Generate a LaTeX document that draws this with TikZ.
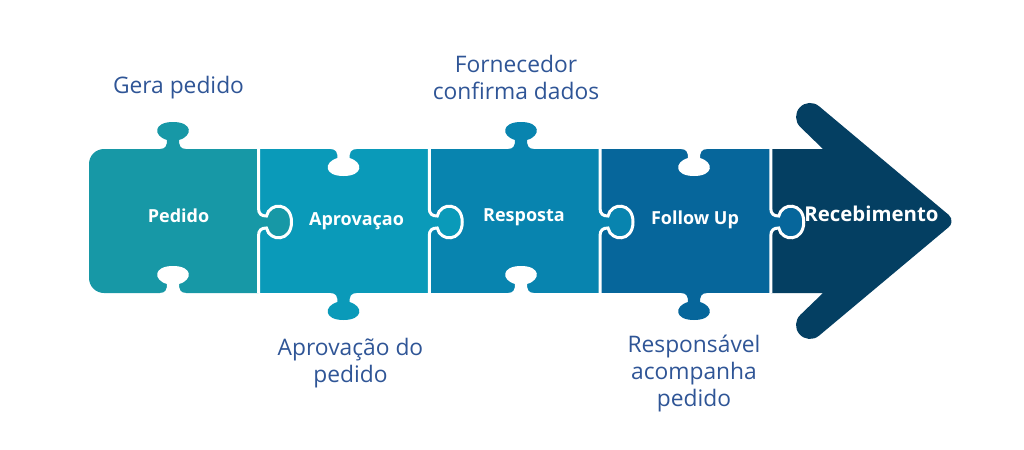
\documentclass[tikz,border=0pt]{standalone}
\usepackage{fontspec}
\setmainfont{Open Sans}
\usepackage{tikz}
\usetikzlibrary{positioning}
\definecolor{pedidoc}{HTML}{1798A6}
\definecolor{aprovc}{HTML}{0A9AB9}
\definecolor{respc}{HTML}{0884AF}
\definecolor{followc}{HTML}{06669B}
\definecolor{recebc}{HTML}{043F62}
\definecolor{descc}{HTML}{2F5596}

\begin{document}
\begin{tikzpicture}[x=0.025cm, y=-0.025cm]
\tikzstyle{desc}=[text=descc, align=center, inner sep=0pt, font=\fontsize{16.2}{19.5}\selectfont]
\tikzstyle{piecelabel}=[text=white, inner sep=0pt, anchor=base, font=\bfseries\fontsize{12.8}{15}\selectfont]
\tikzstyle{cut}=[draw=white, line width=0.075cm]
\tikzset{
  knobcap/.pic={
    \fill[pic actions] (-13,2) -- (-13,0) .. controls (-7,0) and (-6,-4) .. (-6,-9)
      .. controls (-20,-13) and (-20,-27) .. (0,-27) .. controls (20,-27) and (20,-13) .. (6,-9)
      .. controls (6,-4) and (7,0) .. (13,0) -- (13,2) -- cycle;
  },
  knobside/.pic={
    \fill[pic actions] (-2,-14) -- (0,-14) .. controls (0,-8) and (3,-6) .. (8,-6)
      .. controls (11,-20) and (33,-20) .. (33,0) .. controls (33,20) and (11,20) .. (8,6)
      .. controls (3,6) and (0,8) .. (0,14) -- (-2,14) -- cycle;
    \draw[cut] (0,-73) -- (0,-14) .. controls (0,-8) and (3,-6) .. (8,-6)
      .. controls (11,-20) and (33,-20) .. (33,0) .. controls (33,20) and (11,20) .. (8,6)
      .. controls (3,6) and (0,8) .. (0,14) -- (0,71);
  }
}
\useasboundingbox (0,0) rectangle (1024,449);

\fill[pedidoc] (258.5,149) -- (104,149) arc[start angle=270, end angle=180, radius=15]
  -- (89,278) arc[start angle=180, end angle=90, radius=15] -- (258.5,293) -- cycle;
\fill[aprovc] (258.5,149) rectangle (429.25,293);
\fill[respc] (429.25,149) rectangle (600,293);
\fill[followc] (600,149) rectangle (770.75,293);
\fill[recebc] (770.75,149) -- (823,149) -- (800.4,127.1) arc[start angle=133.5, end angle=310, radius=14]
  -- (948.7,214.87) arc[start angle=-50, end angle=50, radius=8]
  -- (819,335.7) arc[start angle=50, end angle=226.5, radius=14]
  -- (823,293) -- (770.75,293) -- cycle;

\pic[fill=pedidoc] at (173,149) {knobcap};
\pic[fill=white] at (173,293) {knobcap};
\pic[fill=white, rotate=180] at (343.5,149) {knobcap};
\pic[fill=aprovc, rotate=180] at (343.5,293) {knobcap};
\pic[fill=respc] at (521,149) {knobcap};
\pic[fill=white] at (521,293) {knobcap};
\pic[fill=white, rotate=180] at (694,149) {knobcap};
\pic[fill=followc, rotate=180] at (694,293) {knobcap};

\pic[fill=pedidoc] at (258.5,222) {knobside};
\pic[fill=aprovc] at (429.25,222) {knobside};
\pic[fill=respc] at (600,222) {knobside};
\pic[fill=followc] at (770.75,222) {knobside};

\node[piecelabel] (pedido) at (178.5,222.7) {Pedido};
\node[piecelabel] (aprovacao) at (356.5,225) {Aprovaçao};
\node[piecelabel] (resposta) at (524,221.7) {Resposta};
\node[piecelabel] (followup) at (695,224) {Follow Up};
\node[piecelabel, font=\bfseries\fontsize{14.5}{17}\selectfont] (recebimento) at (871.5,221.7) {Recebimento};

\node[desc, anchor=base] (gera) at (178.5,93.5) {Gera pedido};
\node[desc] (fornecedor) at (516,77.5) {Fornecedor\\confirma dados};
\node[desc] (aprovdesc) at (350.5,363) {Aprovação do\\pedido};
\node[desc] (respdesc) at (694,373.5) {Responsável\\acompanha\\pedido};
\end{tikzpicture}
\end{document}
